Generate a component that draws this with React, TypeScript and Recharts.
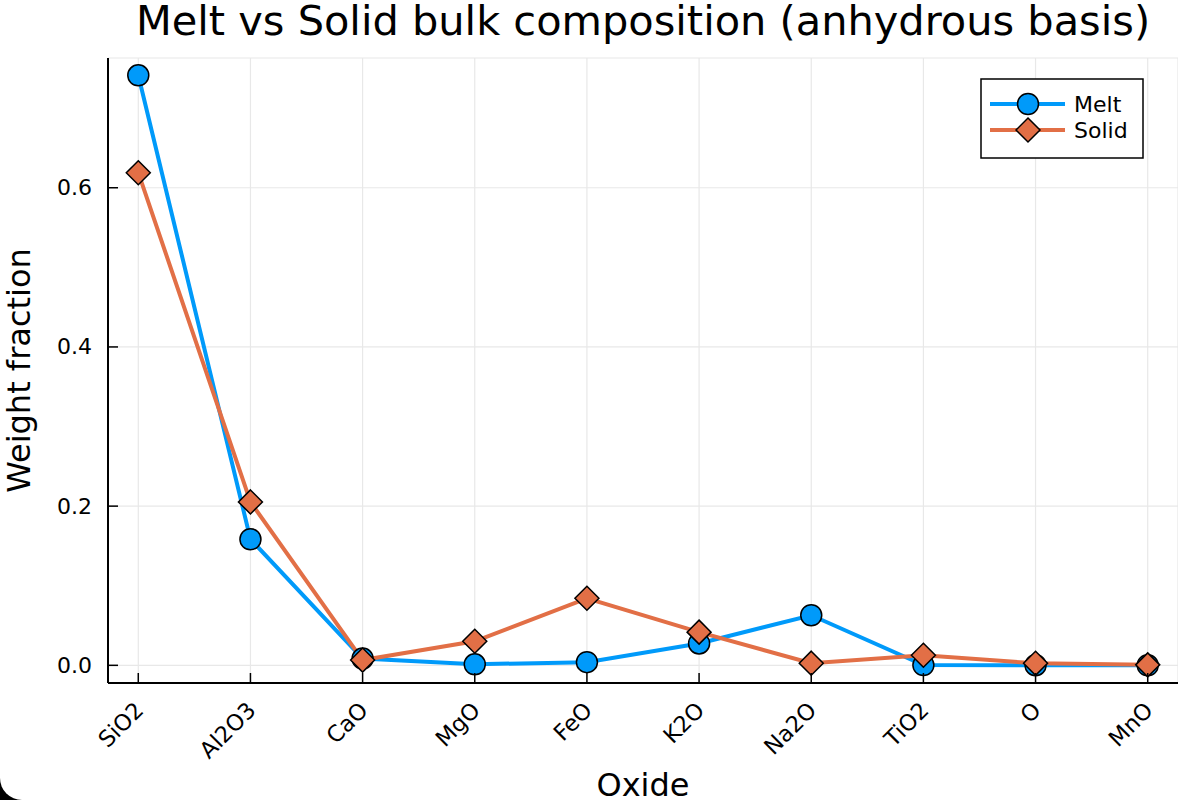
import React from 'react';
import { LineChart, Line, XAxis, YAxis, CartesianGrid, Label } from 'recharts';

const oxides = ['SiO2', 'Al2O3', 'CaO', 'MgO', 'FeO', 'K2O', 'Na2O', 'TiO2', 'O', 'MnO'];
const meltValues = [0.7413, 0.1584, 0.0085, 0.0013, 0.0040, 0.0275, 0.0629, 0.0003, 0.0002, 0.0001];
const solidValues = [0.6189, 0.2053, 0.0066, 0.0302, 0.0842, 0.0417, 0.0027, 0.0126, 0.0025, 0.0006];
const yTicks = [0, 0.2, 0.4, 0.6];
const xTicks = oxides.map((_, i) => i);

const MELT = '#009AFA';
const SOLID = '#E26F46';
const FONT = '"DejaVu Sans", sans-serif';

const data = oxides.map((name, i) => ({ idx: i, name, melt: meltValues[i], solid: solidValues[i] }));

const CircleDot = (props: any) => {
  const { cx, cy } = props;
  if (cx == null || cy == null) return null;
  return <circle cx={cx} cy={cy} r={10.5} fill={MELT} stroke="#000" strokeWidth={1.5} />;
};

const DiamondDot = (props: any) => {
  const { cx, cy } = props;
  if (cx == null || cy == null) return null;
  const s = 12;
  return (
    <path
      d={`M${cx},${cy - s} L${cx + s},${cy} L${cx},${cy + s} L${cx - s},${cy} Z`}
      fill={SOLID}
      stroke="#000"
      strokeWidth={1.5}
    />
  );
};

const XTick = (props: any) => {
  const { x, y, payload } = props;
  return (
    <g>
      <line x1={x} y1={y} x2={x} y2={y - 10} stroke="#000" strokeWidth={1.5} />
      <text
        transform={`translate(${x + 1},${y + 23}) rotate(-45)`}
        textAnchor="end"
        dominantBaseline="central"
        fontFamily={FONT}
        fontSize={22.5}
        fill="#000"
      >
        {oxides[payload.value]}
      </text>
    </g>
  );
};

const YTick = (props: any) => {
  const { x, y, payload } = props;
  return (
    <g>
      <line x1={x} y1={y} x2={x + 10} y2={y} stroke="#000" strokeWidth={1.5} />
      <text x={x - 16} y={y} textAnchor="end" dominantBaseline="central" fontFamily={FONT} fontSize={22} fill="#000">
        {payload.value.toFixed(1)}
      </text>
    </g>
  );
};

const LegendBox = () => (
  <svg width={166} height={82} style={{ display: 'block' }}>
    <rect x={1} y={1} width={162} height={79} fill="#fff" stroke="#000" strokeWidth={1.5} />
    <line x1={10} y1={26} x2={85} y2={26} stroke={MELT} strokeWidth={4} />
    <circle cx={48} cy={26} r={10.5} fill={MELT} stroke="#000" strokeWidth={1.5} />
    <text x={94} y={26} dominantBaseline="central" fontFamily={FONT} fontSize={22} fill="#000">Melt</text>
    <line x1={10} y1={52} x2={85} y2={52} stroke={SOLID} strokeWidth={4} />
    <path d="M48,40 L60,52 L48,64 L36,52 Z" fill={SOLID} stroke="#000" strokeWidth={1.5} />
    <text x={94} y={52} dominantBaseline="central" fontFamily={FONT} fontSize={22} fill="#000">Solid</text>
  </svg>
);

export default function App() {
  return (
    <div style={{ position: 'absolute', left: 0, top: 0, width: 1178, height: 800, background: '#000' }}>
      <div
        style={{
          position: 'relative',
          width: 1178,
          height: 800,
          background: '#fff',
          borderBottomLeftRadius: 22,
          fontFamily: FONT,
        }}
      >
        <div
          style={{
            position: 'absolute',
            left: 108,
            width: 1070,
            top: 0,
            textAlign: 'center',
            fontSize: 41.5,
            lineHeight: '42px',
            color: '#000',
            whiteSpace: 'nowrap',
          }}
        >
          Melt vs Solid bulk composition (anhydrous basis)
        </div>
        <LineChart width={1178} height={800} data={data} margin={{ top: 58, right: 0, bottom: 116, left: 107 }}>
          <CartesianGrid stroke="#e8e8e8" strokeWidth={1.2} />
          <XAxis
            type="number"
            dataKey="idx"
            domain={[-0.27, 9.27]}
            ticks={xTicks}
            allowDataOverflow
            height={1}
            tickSize={0}
            tickMargin={0}
            tick={<XTick />}
            stroke="#000"
            strokeWidth={2}
            interval={0}
          >
            <Label value="Oxide" position="bottom" offset={89} style={{ fontFamily: FONT, fontSize: 32, fill: '#000' }} />
          </XAxis>
          <YAxis
            type="number"
            domain={[-0.0222, 0.763]}
            ticks={yTicks}
            allowDataOverflow
            width={1}
            tickSize={0}
            tickMargin={0}
            tick={<YTick />}
            stroke="#000"
            strokeWidth={2}
            interval={0}
          >
            <Label
              value="Weight fraction"
              angle={-90}
              position="left"
              offset={88}
              style={{ fontFamily: FONT, fontSize: 32, fill: '#000', textAnchor: 'middle' }}
            />
          </YAxis>
          <Line
            type="linear"
            dataKey="melt"
            name="Melt"
            stroke={MELT}
            strokeWidth={4}
            dot={<CircleDot />}
            activeDot={false}
            isAnimationActive={false}
          />
          <Line
            type="linear"
            dataKey="solid"
            name="Solid"
            stroke={SOLID}
            strokeWidth={4}
            dot={<DiamondDot />}
            activeDot={false}
            isAnimationActive={false}
          />
        </LineChart>
        <div style={{ position: 'absolute', left: 980, top: 78 }}>
          <LegendBox />
        </div>
      </div>
    </div>
  );
}
